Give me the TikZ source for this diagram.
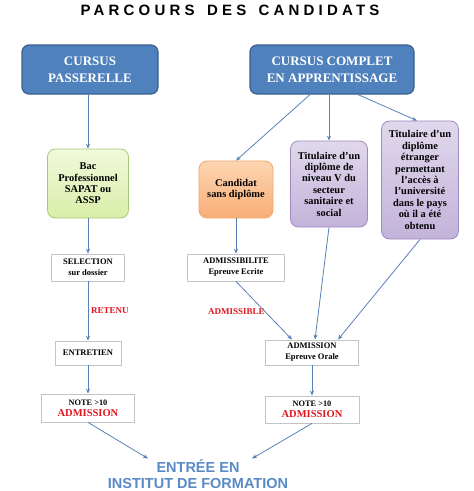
\documentclass[tikz,border=0pt]{standalone}
\usepackage{fontspec}
\setmainfont{Liberation Serif}
\newfontfamily\titrefont[LetterSpace=28]{Liberation Sans}
\newfontfamily\entreefont{Liberation Sans}
\usetikzlibrary{arrows.meta}

\definecolor{cursusfill}{HTML}{4F81BD}
\definecolor{cursusline}{HTML}{3A5F8E}
\definecolor{lienblue}{HTML}{5A80B8}
\definecolor{etapeline}{HTML}{C4C4C4}
\definecolor{avisred}{HTML}{E0161E}
\definecolor{entreeblue}{HTML}{5A8AC6}
\definecolor{verthaut}{HTML}{F1F9DC}
\definecolor{vertbas}{HTML}{D8EEA8}
\definecolor{vertline}{HTML}{A9C877}
\definecolor{orangehaut}{HTML}{FDD5B2}
\definecolor{orangebas}{HTML}{F8AE76}
\definecolor{orangeline}{HTML}{F2A66A}
\definecolor{violethaut}{HTML}{E0D8EC}
\definecolor{violetbas}{HTML}{C3B3DA}
\definecolor{violetline}{HTML}{9E8AC2}

\begin{document}
\begin{tikzpicture}
         [x=1pt,y=-1pt,
          >={Stealth[length=5pt,width=4pt]},
          every node/.style={inner sep=1pt,align=center},
          cursus/.style={draw=cursusline,fill=cursusfill,rounded corners=7pt,line width=1.2pt,
                         text=white,font=\bfseries\fontsize{13}{17}\selectfont},
          profil/.style={rounded corners=8pt,line width=0.8pt,
                         font=\bfseries\fontsize{10.4}{11.4}\selectfont},
          etape/.style={draw=etapeline,fill=white,line width=0.8pt,
                        font=\bfseries\fontsize{8.5}{11}\selectfont},
          avis/.style={text=avisred,font=\bfseries\fontsize{9}{10}\selectfont},
          lien/.style={->,draw=lienblue,line width=0.8pt}]
         \useasboundingbox (0,0) rectangle (474,491);

         \node (titre) at (230,10) {\titrefont\bfseries\fontsize{15}{15}\selectfont PARCOURS\hspace{4pt} DES\hspace{4pt} CANDIDATS};

         % les deux cursus
         \node (passerelle) [cursus,minimum width=136pt,minimum height=49pt] at (90,69.5) {CURSUS\\PASSERELLE};
         \node (complet) [cursus,minimum width=164pt,minimum height=49pt] at (332,69.5) {CURSUS COMPLET\\EN APPRENTISSAGE};

         % profils
         \node (bac) [profil,draw=vertline,top color=verthaut,bottom color=vertbas,
                      minimum width=81pt,minimum height=69pt] at (88,183.5) {Bac\\Professionnel\\SAPAT ou\\ASSP};
         \node (sansdip) [profil,draw=orangeline,top color=orangehaut,bottom color=orangebas,
                          minimum width=74pt,minimum height=57pt] at (236,189.5) {Candidat\\sans diplôme};
         \node (niveauV) [profil,draw=violetline,top color=violethaut,bottom color=violetbas,
                          minimum width=77pt,minimum height=86pt] at (329,184) {Titulaire d’un\\diplôme de\\niveau V du\\secteur\\sanitaire et\\social};
         \node (etranger) [profil,draw=violetline,top color=violethaut,bottom color=violetbas,
                           minimum width=77pt,minimum height=118pt] at (420,180) {Titulaire d’un\\diplôme\\étranger\\permettant\\l’accès à\\l’université\\dans le pays\\où il a été\\obtenu};

         % epreuves
         \node (selection) [etape,minimum width=73pt,minimum height=27pt] at (88,267.5) {SELECTION\\sur dossier};
         \node (admissibilite) [etape,minimum width=97pt,minimum height=27pt] at (236,267.5) {ADMISSIBILITE\\Epreuve Ecrite};
         \node (entretien) [etape,minimum width=66pt,minimum height=24pt] at (88,353) {ENTRETIEN};
         \node (admission) [etape,minimum width=93pt,minimum height=25pt] at (312,352.5) {ADMISSION\\Epreuve Orale};
         \node (noteA) [etape,minimum width=93pt,minimum height=28pt] at (88,408)
               {{\fontsize{8.3}{9}\selectfont NOTE >10}\\{\color{avisred}\fontsize{10.5}{12}\selectfont ADMISSION}};
         \node (noteB) [etape,minimum width=94pt,minimum height=27pt] at (312,409.5)
               {{\fontsize{8.3}{9}\selectfont NOTE >10}\\{\color{avisred}\fontsize{10.5}{12}\selectfont ADMISSION}};

         \node (retenu) [avis,anchor=west] at (90,311) {RETENU};
         \node (admissible) [avis] at (236.5,312) {ADMISSIBLE};

         \node (entree) [text=entreeblue,font=\entreefont\bfseries\fontsize{14.5}{15.5}\selectfont] at (198,474)
               {ENTRÉE EN\\INSTITUT DE FORMATION};

         % liens
         \draw[lien] (passerelle.south -| bac.north) -- (bac.north);
         \draw[lien] ([xshift=-22pt]complet.south) -- (sansdip.north);
         \draw[lien] (complet.south -| niveauV.north) -- (niveauV.north);
         \draw[lien] ([xshift=26pt]complet.south) -- ([xshift=-3pt]etranger.north);
         \draw[lien] (bac.south) -- (selection.north);
         \draw[lien] (sansdip.south) -- (admissibilite.north);
         \draw[lien] (selection.south) -- (entretien.north);
         \draw[lien] (admissibilite.south) -- ([xshift=-20pt]admission.north);
         \draw[lien] (niveauV.south) -- ([xshift=3pt]admission.north);
         \draw[lien] (etranger.south) -- ([xshift=26pt]admission.north);
         \draw[lien] (entretien.south) -- (noteA.north);
         \draw[lien] (admission.south) -- (noteB.north);
         \draw[lien] (noteA.south) -- ([xshift=-50pt]entree.north);
         \draw[lien] (noteB.south) -- ([xshift=54pt]entree.north);
      \end{tikzpicture}
\end{document}
